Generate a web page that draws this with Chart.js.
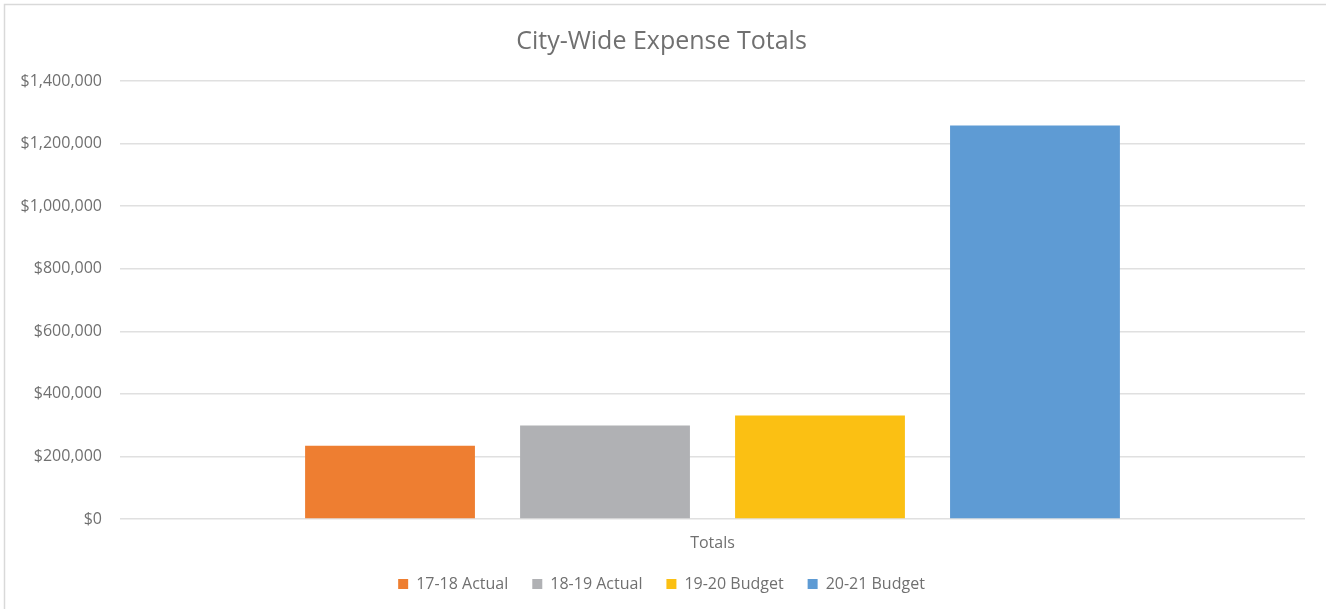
<!DOCTYPE html>
<html>
<head>
<meta charset="utf-8">
<script src="https://cdn.jsdelivr.net/npm/chart.js@4.4.1/dist/chart.umd.min.js"></script>
<style>
  html, body { margin: 0; padding: 0; background: #fff; }
  #wrap { position: relative; width: 1326px; height: 609px; }
</style>
</head>
<body>
<div id="wrap"><canvas id="chart" width="1326" height="609"></canvas></div>
<script>
// datos
const categorias = ['Totals'];
const series = ['17-18 Actual', '18-19 Actual', '19-20 Budget', '20-21 Budget'];
const valores = [234500, 298500, 330500, 1258000];
const colores = ['#EE7E31', '#B0B1B4', '#FBC013', '#5E9BD4'];
const ticksY = [0, 200000, 400000, 600000, 800000, 1000000, 1200000, 1400000];

const gris = '#707070';
const fuente = "'Open Sans', 'Liberation Sans', sans-serif";

// borde del área del gráfico (solo arriba e izquierda visibles)
const borde = {
  id: 'borde',
  afterDraw(chart) {
    const ctx = chart.ctx;
    ctx.save();
    ctx.strokeStyle = '#d9d9d9';
    ctx.lineWidth = 1.5;
    ctx.beginPath();
    ctx.moveTo(4.5, 609);
    ctx.lineTo(4.5, 4.5);
    ctx.lineTo(1326, 4.5);
    ctx.stroke();
    ctx.restore();
  }
};

new Chart(document.getElementById('chart'), {
  type: 'bar',
  data: {
    labels: categorias,
    datasets: series.map((nombre, i) => ({
      label: nombre,
      data: [valores[i]],
      backgroundColor: colores[i],
      borderWidth: 0,
      categoryPercentage: 0.7257,
      barPercentage: 0.79
    }))
  },
  options: {
    responsive: false,
    animation: false,
    layout: { padding: { left: 18, right: 21, top: 0, bottom: 7 } },
    plugins: {
      title: {
        display: true,
        text: 'City-Wide Expense Totals',
        color: gris,
        font: { family: fuente, size: 25, weight: 'normal' },
        padding: { top: 27, bottom: 24 }
      },
      legend: {
        position: 'bottom',
        labels: {
          color: gris,
          font: { family: fuente, size: 16 },
          boxWidth: 10,
          boxHeight: 10,
          padding: 24
        }
      },
      tooltip: { enabled: false }
    },
    scales: {
      x: {
        afterFit(scale) { scale.height = 33; },
        grid: { display: false },
        border: { display: false },
        ticks: { color: gris, font: { family: fuente, size: 16 }, padding: 7 }
      },
      y: {
        min: 0,
        max: 1400000,
        afterFit(scale) { scale.width = 102; },
        afterBuildTicks(scale) { scale.ticks = ticksY.map(v => ({ value: v })); },
        grid: { color: '#e0e0e0', lineWidth: 1.5, drawTicks: false },
        border: { display: false },
        ticks: {
          color: gris,
          font: { family: fuente, size: 16 },
          padding: 18,
          callback: v => '$' + v.toLocaleString('en-US')
        }
      }
    }
  },
  plugins: [borde]
});
</script>
</body>
</html>
